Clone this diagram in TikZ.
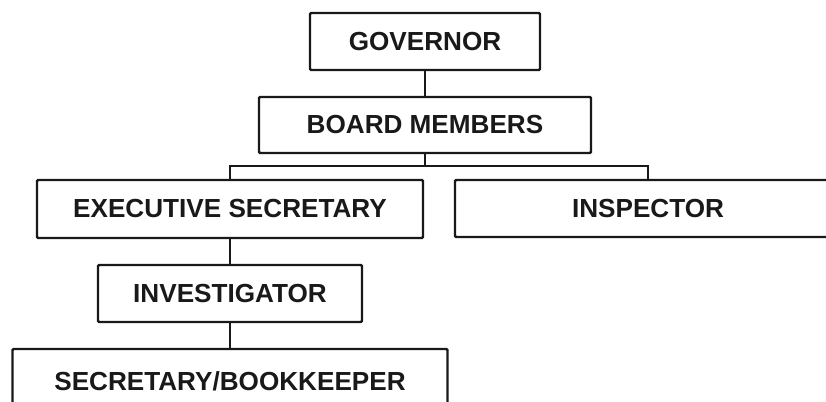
\documentclass[tikz,border=0pt]{standalone}
\usepackage{fontspec}
\setmainfont{Liberation Sans}
\begin{document}
\begin{tikzpicture}[x=0.03cm,y=-0.03cm,
  box/.style={draw=black!90, line width=2.1pt, rectangle, rounded corners=1pt,
    inner sep=0pt, outer sep=0pt, align=center,
    font=\fontsize{22.3}{26}\selectfont\bfseries, text=black!90},
  link/.style={draw=black!90, line width=2.1pt}]
\useasboundingbox (0,0) rectangle (826,402);
\clip (0,0) rectangle (826,402);
\node[box, minimum width=6.9cm, minimum height=1.71cm] (gov) at (425,41.5) {GOVERNOR};
\node[box, minimum width=9.96cm, minimum height=1.68cm] (board) at (425,125) {BOARD MEMBERS};
\node[box, minimum width=11.58cm, minimum height=1.74cm] (es) at (230,209) {EXECUTIVE SECRETARY};
\node[box, minimum width=11.58cm, minimum height=1.71cm] (insp) at (648,208.5) {INSPECTOR};
\node[box, minimum width=7.92cm, minimum height=1.71cm] (inv) at (230,293.5) {INVESTIGATOR};
\node[box, minimum width=13.05cm, minimum height=1.92cm] (sec) at (230,381) {SECRETARY/BOOKKEEPER};
\coordinate (bus) at (425,166);
\draw[link] (gov.south) -- (board.north);
\draw[link] (board.south) -- (bus);
\draw[link] (es.north) |- (bus) -| (insp.north);
\draw[link] (es.south) -- (inv.north);
\draw[link] (inv.south) -- (sec.north);
\end{tikzpicture}
\end{document}
